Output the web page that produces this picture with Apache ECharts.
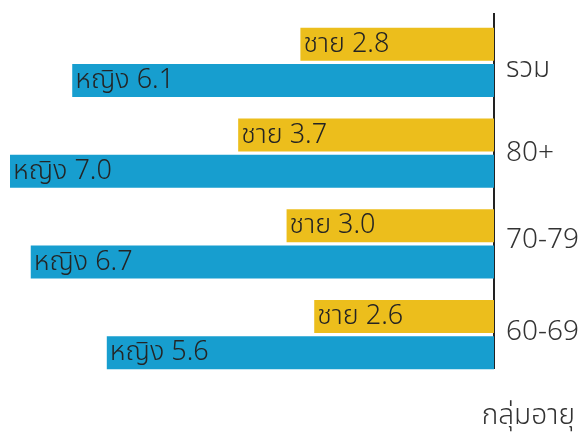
<!DOCTYPE html>
<html>
<head>
<meta charset="utf-8">
<script src="https://cdn.jsdelivr.net/npm/echarts@6/dist/echarts.min.js"></script>
<style>
  html, body { margin: 0; padding: 0; background: #fff; }
  #chart { width: 582px; height: 432px; }
</style>
</head>
<body>
<div id="chart"></div>
<script>
// Age groups, top to bottom
const ageGroups = ['รวม', '80+', '70-79', '60-69'];
// Values per group
const maleValues = [2.8, 3.7, 3.0, 2.6];
const femaleValues = [6.1, 7.0, 6.7, 5.6];
const maleName = 'ชาย';
const femaleName = 'หญิง';
const axisTitle = 'กลุ่มอายุ';

const FONT = '"Noto Sans", "Noto Sans Thai", Tahoma, sans-serif';
const LABEL_TEXT = { fontSize: 28, fontWeight: 300, color: '#333', fontFamily: FONT };
// rich styles giving each group label a small vertical nudge
const groupRich = {
  g0: Object.assign({ padding: [14, 0, 0, 0] }, LABEL_TEXT),
  g1: Object.assign({ padding: [0, 0, 0, 0] }, LABEL_TEXT),
  g2: Object.assign({ padding: [0, 0, 8, 0] }, LABEL_TEXT),
  g3: Object.assign({ padding: [0, 0, 6, 0] }, LABEL_TEXT)
};

const chart = echarts.init(document.getElementById('chart'), null, { renderer: 'canvas' });

function barLabel(name) {
  return {
    show: true,
    position: 'insideLeft',
    distance: 3,
    formatter: p => name + ' ' + p.value.toFixed(1),
    color: '#242424',
    fontSize: 27,
    fontWeight: 300,
    fontFamily: FONT
  };
}

chart.setOption({
  animation: false,
  title: {
    text: axisTitle,
    right: 2,
    top: 397,
    textStyle: { fontSize: 28, fontWeight: 300, color: '#333', fontFamily: FONT }
  },
  grid: { left: 10, right: 88, top: 17, height: 363, containLabel: false, outerBoundsMode: 'none' },
  xAxis: {
    type: 'value',
    min: 0,
    max: 7,
    inverse: true,
    show: false
  },
  yAxis: {
    type: 'category',
    data: ageGroups,
    inverse: true,
    position: 'right',
    axisLine: { show: false },
    axisTick: { show: false },
    axisLabel: Object.assign({
      margin: 12,
      formatter: (v, i) => '{g' + i + '|' + v + '}',
      rich: groupRich
    }, LABEL_TEXT)
  },
  graphic: [{
    type: 'line',
    shape: { x1: 494, y1: 13, x2: 494, y2: 369 },
    style: { stroke: '#222', lineWidth: 2 }
  }],
  series: [
    {
      name: maleName,
      type: 'bar',
      data: maleValues,
      barWidth: 33,
      barGap: '10%',
      barCategoryGap: '24%',
      itemStyle: { color: '#ECBE1C' },
      label: barLabel(maleName)
    },
    {
      name: femaleName,
      type: 'bar',
      data: femaleValues,
      barWidth: 33,
      itemStyle: { color: '#179ECF' },
      label: barLabel(femaleName)
    }
  ]
});
</script>
</body>
</html>
